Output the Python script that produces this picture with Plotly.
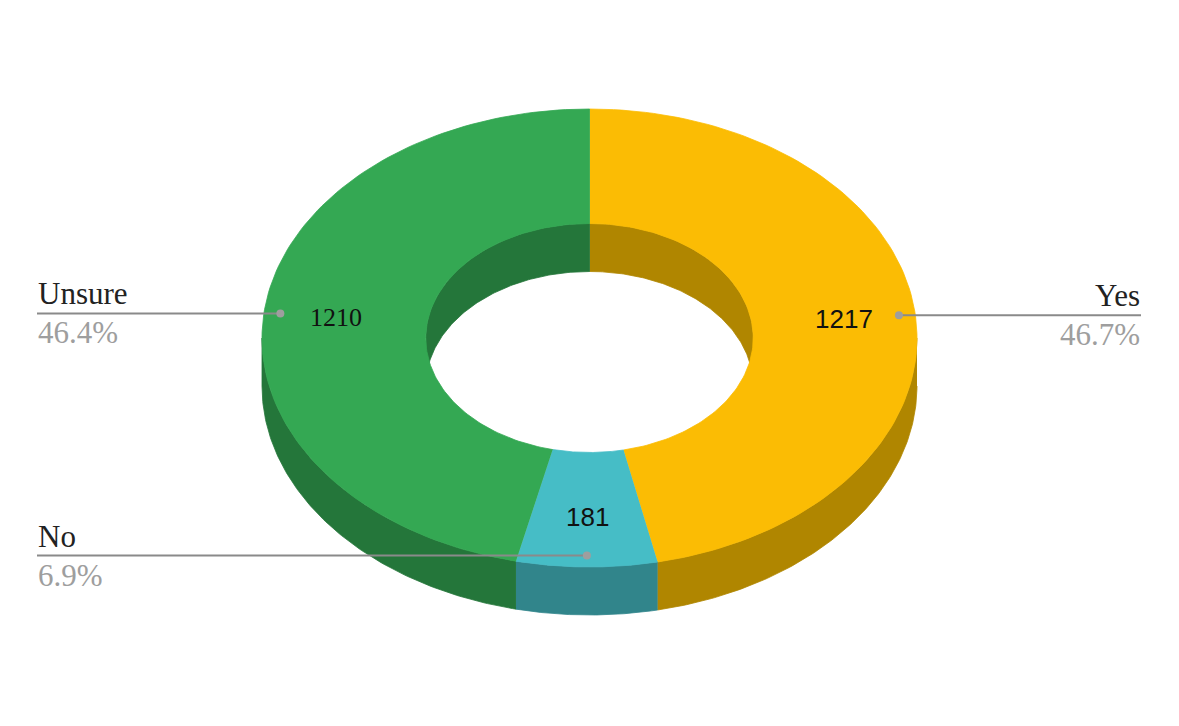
import numpy as np
import plotly.graph_objects as go

# ---- data ----
labels = ["Yes", "No", "Unsure"]
values = [1217, 181, 1210]
top_colors = ["#FBBC04", "#46BDC6", "#34A853"]
side_colors = ["#B08600", "#31858B", "#24763A"]
value_fonts = ["Liberation Sans", "Liberation Sans", "Liberation Serif"]

# ---- geometry (page pixel space) ----
W, H = 1179, 726
PAGE_MARGIN = 8  # default browser body margin
CX, CY = 589.5, 338.0
RX, RY = 327.5, 229.0
HOLE = 0.5
DEPTH = 48.0
LEFT_X, RIGHT_X = 37, 1141


def pts(t1, t2, r, dy=0.0, n=120):
    t = np.radians(np.linspace(t1, t2, n))
    return CX + RX * r * np.sin(t), CY - RY * r * np.cos(t) + dy


def overlap(a, b, lo, hi):
    s, e = max(a, lo), min(b, hi)
    return (s, e) if e > s else None


def poly_trace(x, y, color):
    return go.Scatter(x=list(x), y=list(y), mode="lines", fill="toself",
                      fillcolor=color, line=dict(color=color, width=0.8),
                      hoverinfo="skip", showlegend=False)


total = sum(values)
bounds = []
acc = 0.0
for v in values:
    a = acc / total * 360
    acc += v
    b = acc / total * 360
    bounds.append((a, b))

fig = go.Figure()

# outer side walls (front half)
for (a, b), sc in zip(bounds, side_colors):
    ov = overlap(a, b, 90, 270)
    if ov:
        x1, y1 = pts(ov[0], ov[1], 1.0)
        x2, y2 = pts(ov[1], ov[0], 1.0, DEPTH)
        fig.add_trace(poly_trace(np.r_[x1, x2], np.r_[y1, y2], sc))

# inner walls (back half of the hole)
for (a, b), sc in zip(bounds, side_colors):
    for lo, hi in [(-1, 90), (270, 361)]:
        ov = overlap(a, b, lo, hi)
        if ov:
            x1, y1 = pts(ov[0], ov[1], HOLE)
            x2, y2 = pts(ov[1], ov[0], HOLE, DEPTH)
            fig.add_trace(poly_trace(np.r_[x1, x2], np.r_[y1, y2], sc))

# top faces
for (a, b), tc in zip(bounds, top_colors):
    x1, y1 = pts(a, b, 1.0)
    x2, y2 = pts(b, a, HOLE)
    fig.add_trace(poly_trace(np.r_[x1, x2], np.r_[y1, y2], tc))

annotations = []
for lab, v, (a, b), vf in zip(labels, values, bounds, value_fonts):
    mid = (a + b) / 2
    # value label
    vx, vy = pts(mid, mid, 0.78, n=1)
    annotations.append(dict(x=vx[0], y=vy[0], text=str(v), showarrow=False,
                            xanchor="center", yanchor="middle",
                            font=dict(family=vf, size=26, color="#111111")))
    # leader line
    dx, dy = pts(mid, mid, 0.95, n=1)
    dx, dy = dx[0], dy[0]
    left = dx < CX
    end_x = LEFT_X if left else RIGHT_X
    fig.add_trace(go.Scatter(x=[end_x, dx], y=[dy, dy], mode="lines",
                             line=dict(color="#8a8a8a", width=2),
                             hoverinfo="skip", showlegend=False))
    fig.add_trace(go.Scatter(x=[dx], y=[dy], mode="markers",
                             marker=dict(color="#9e9e9e", size=8),
                             hoverinfo="skip", showlegend=False))
    anchor = "left" if left else "right"
    annotations.append(dict(x=end_x, y=dy - 1, text=lab, showarrow=False,
                            xanchor=anchor, yanchor="bottom", borderpad=0,
                            font=dict(family="Liberation Serif", size=31, color="#222222")))
    annotations.append(dict(x=end_x, y=dy + 1, text=f"{v / total * 100:.1f}%",
                            showarrow=False, xanchor=anchor, yanchor="top", borderpad=0,
                            font=dict(family="Liberation Serif", size=31, color="#9e9e9e")))

fig.update_layout(
    width=W - 2 * PAGE_MARGIN, height=H - 2 * PAGE_MARGIN,
    margin=dict(l=0, r=0, t=0, b=0),
    paper_bgcolor="white", plot_bgcolor="white",
    xaxis=dict(range=[PAGE_MARGIN, W - PAGE_MARGIN], visible=False, fixedrange=True),
    yaxis=dict(range=[H - PAGE_MARGIN, PAGE_MARGIN], visible=False, fixedrange=True),
    annotations=annotations,
    showlegend=False,
)

fig.write_html("out.html")
